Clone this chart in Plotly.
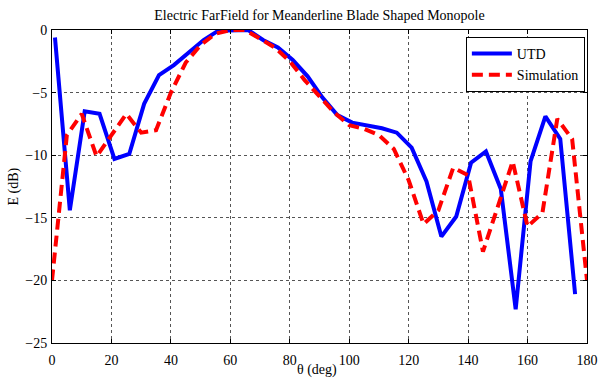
import plotly.graph_objects as go

# UTD prediction, sampled every 5 deg starting at 1 deg
theta_utd = [1, 6, 11, 16, 21, 26, 31, 36, 41, 46, 51, 56, 61, 66, 71, 76, 81, 86,
             91, 96, 101, 106, 111, 116, 121, 126, 131, 136, 141, 146, 151, 156,
             161, 166, 171, 176]
e_utd = [-0.6, -14.4, -6.5, -6.7, -10.3, -9.9, -5.9, -3.6, -2.8, -1.75, -0.8, -0.05,
         0.0, 0.0, -0.8, -1.4, -2.4, -3.7, -5.4, -6.8, -7.4, -7.65, -7.85, -8.2,
         -9.4, -12.1, -16.5, -14.9, -10.6, -9.7, -12.7, -22.3, -10.5, -6.9, -8.7,
         -21.1]

# Full-wave simulation, sampled every 5 deg from 0 to 180 deg
theta_sim = [0, 5, 10, 15, 20, 25, 30, 35, 40, 45, 50, 55, 60, 65, 70, 75, 80, 85,
             90, 95, 100, 105, 110, 115, 120, 125, 130, 135, 140, 145, 150, 155,
             160, 165, 170, 175, 180]
e_sim = [-20.0, -8.4, -6.7, -10.1, -8.4, -6.7, -8.2, -8.0, -5.0, -2.6, -1.2, -0.3,
         0.0, 0.0, -0.7, -1.4, -2.5, -4.0, -5.3, -6.6, -7.6, -7.9, -8.4, -9.5,
         -12.0, -15.5, -14.4, -11.0, -11.6, -17.7, -14.1, -10.5, -15.7, -14.6,
         -7.1, -8.7, -20.0]

x_ticks = [0, 20, 40, 60, 80, 100, 120, 140, 160, 180]
y_ticks = [-25, -20, -15, -10, -5, 0]

SERIF = "Liberation Serif"
FONT = dict(family=SERIF, size=14, color="black")

# plot area in pixels (fixed margins, no automargin)
L, R, T, B = 52, 11, 30, 37
W, H = 598, 380
PW, PH = W - L - R, H - T - B

fig = go.Figure()
fig.add_trace(go.Scatter(
    x=theta_utd, y=e_utd, mode="lines", name="UTD",
    line=dict(color="#0000FF", width=4),
))
fig.add_trace(go.Scatter(
    x=theta_sim, y=e_sim, mode="lines", name="Simulation",
    line=dict(color="#FF0000", width=4, dash="11px,6px"),
))

axis_common = dict(
    showline=True, linecolor="black", linewidth=1, mirror="ticks",
    ticks="inside", ticklen=4, tickcolor="black",
    showgrid=True, gridcolor="#555555", griddash="dot", gridwidth=1,
    zeroline=False, automargin=False,
    tickfont=FONT,
)

fig.update_layout(
    width=W, height=H,
    margin=dict(l=L, r=R, t=T, b=B),
    paper_bgcolor="white", plot_bgcolor="white",
    title=dict(
        text="Electric FarField for Meanderline Blade Shaped Monopole",
        font=FONT,
        x=(L + W - R) / 2 / W, xanchor="center", y=1 - 15 / H, yanchor="middle",
    ),
    xaxis=dict(range=[0, 180], tickvals=x_ticks, ticklabelstandoff=4, **axis_common),
    yaxis=dict(range=[-25, 0], tickvals=y_ticks, ticklabelstandoff=1, **axis_common),
    legend=dict(
        x=0.996, y=0.978, xanchor="right", yanchor="top",
        bgcolor="white", bordercolor="black", borderwidth=1,
        font=FONT, tracegroupgap=0, itemwidth=40,
    ),
    showlegend=True,
    annotations=[
        # axis titles placed in paper coordinates
        dict(text="θ (deg)", xref="paper", yref="paper",
             x=(317 - L) / PW, y=(H - B - 370) / PH,
             xanchor="center", yanchor="middle", showarrow=False, font=FONT),
        dict(text="E (dB)", xref="paper", yref="paper",
             x=(13 - L) / PW, y=0.5, textangle=-90,
             xanchor="center", yanchor="middle", showarrow=False, font=FONT),
    ],
)

fig.write_html("out.html")
